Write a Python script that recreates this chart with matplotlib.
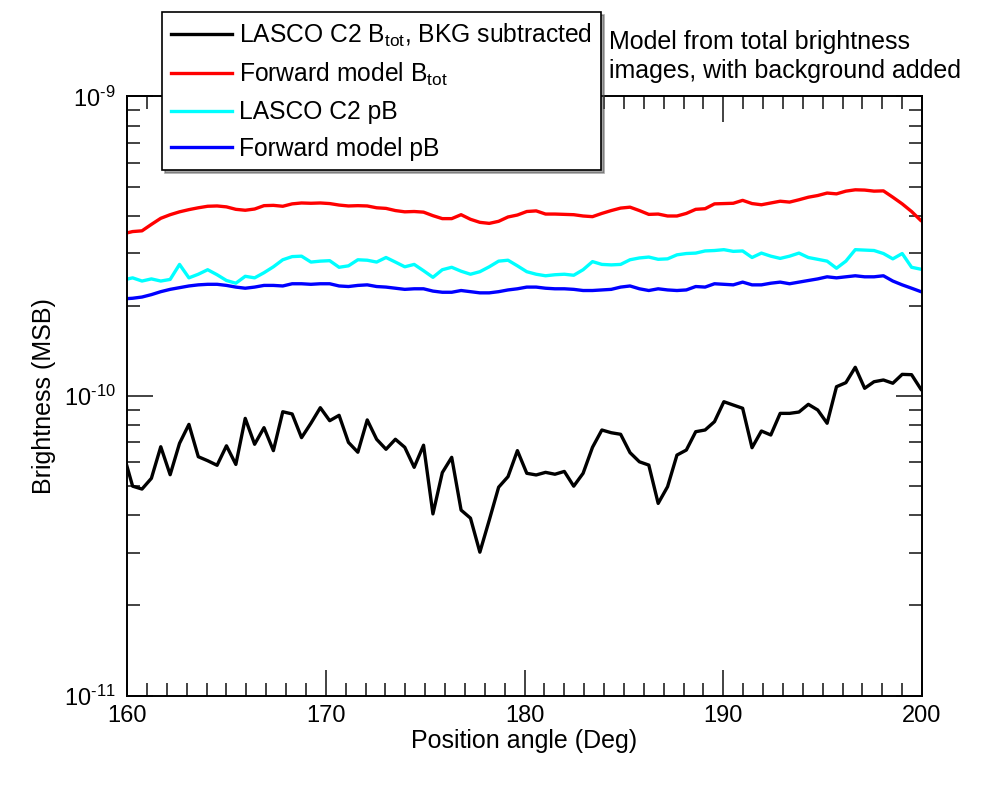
import numpy as np
import matplotlib
matplotlib.use("Agg")
import matplotlib.pyplot as plt
from matplotlib.ticker import MultipleLocator, NullFormatter, FixedLocator, FixedFormatter

plt.rcParams['font.family'] = ['Liberation Sans', 'DejaVu Sans']
plt.rcParams['mathtext.fontset'] = 'custom'
plt.rcParams['mathtext.rm'] = 'Liberation Sans'
plt.rcParams['mathtext.it'] = 'Liberation Sans:italic'
plt.rcParams['mathtext.bf'] = 'Liberation Sans:bold'

# position angle samples (deg), first and last fall just outside the axis
angle = np.linspace(159.81, 200.42, 87)

# LASCO C2 total brightness, background subtracted (units of 1e-11 MSB)
lasco_btot = np.array([
    6.45, 5.00, 4.89, 5.31, 6.77, 5.46, 6.95, 8.04, 6.27, 6.08,
    5.87, 6.82, 5.91, 8.42, 6.90, 7.84, 6.57, 8.86, 8.71, 7.26,
    8.11, 9.14, 8.27, 8.62, 7.00, 6.49, 8.32, 7.17, 6.64, 7.17,
    6.74, 5.78, 6.85, 4.04, 5.55, 6.24, 4.16, 3.91, 3.01, 3.85,
    4.96, 5.38, 6.57, 5.52, 5.45, 5.56, 5.48, 5.60, 5.00, 5.52,
    6.74, 7.70, 7.54, 7.45, 6.47, 6.03, 5.88, 4.38, 4.98, 6.35,
    6.60, 7.60, 7.70, 8.21, 9.57, 9.33, 9.10, 6.72, 7.64, 7.41,
    8.75, 8.75, 8.84, 9.38, 8.98, 8.11, 10.74, 11.08, 12.47, 10.61,
    11.16, 11.31, 11.03, 11.81, 11.78, 10.53, 9.80]) * 1e-11

# forward model total brightness (units of 1e-10 MSB)
model_btot = np.array([
    3.48, 3.54, 3.56, 3.74, 3.92, 4.03, 4.12, 4.19, 4.25, 4.30,
    4.31, 4.28, 4.20, 4.17, 4.21, 4.32, 4.33, 4.30, 4.38, 4.41,
    4.40, 4.41, 4.39, 4.34, 4.31, 4.32, 4.31, 4.25, 4.23, 4.16,
    4.12, 4.13, 4.11, 4.00, 3.91, 3.91, 4.03, 3.89, 3.80, 3.77,
    3.83, 3.96, 4.02, 4.13, 4.15, 4.05, 4.05, 4.04, 4.03, 3.99,
    3.97, 4.07, 4.16, 4.24, 4.27, 4.16, 4.04, 4.05, 3.99, 3.99,
    4.07, 4.20, 4.22, 4.38, 4.39, 4.40, 4.50, 4.39, 4.35, 4.41,
    4.47, 4.44, 4.52, 4.61, 4.67, 4.76, 4.73, 4.83, 4.88, 4.87,
    4.83, 4.84, 4.61, 4.38, 4.13, 3.85, 3.70]) * 1e-10

# LASCO C2 polarized brightness (units of 1e-10 MSB)
lasco_pb = np.array([
    2.44, 2.48, 2.42, 2.46, 2.42, 2.45, 2.75, 2.48, 2.55, 2.64,
    2.54, 2.43, 2.38, 2.51, 2.48, 2.58, 2.70, 2.85, 2.92, 2.93,
    2.80, 2.82, 2.83, 2.69, 2.72, 2.85, 2.84, 2.80, 2.90, 2.80,
    2.70, 2.75, 2.62, 2.49, 2.64, 2.69, 2.61, 2.55, 2.60, 2.70,
    2.82, 2.84, 2.72, 2.60, 2.55, 2.52, 2.54, 2.55, 2.53, 2.64,
    2.81, 2.75, 2.74, 2.75, 2.85, 2.89, 2.91, 2.86, 2.87, 2.96,
    2.99, 3.00, 3.05, 3.06, 3.08, 3.04, 3.05, 2.90, 3.00, 2.93,
    2.88, 2.93, 3.00, 2.90, 2.86, 2.82, 2.67, 2.82, 3.08, 3.07,
    3.06, 2.99, 2.87, 2.99, 2.69, 2.65, 2.64]) * 1e-10

# forward model polarized brightness (units of 1e-10 MSB)
model_pb = np.array([
    2.11, 2.12, 2.14, 2.18, 2.23, 2.27, 2.30, 2.33, 2.35, 2.36,
    2.36, 2.34, 2.31, 2.29, 2.31, 2.34, 2.34, 2.33, 2.37, 2.37,
    2.36, 2.37, 2.37, 2.33, 2.32, 2.34, 2.35, 2.32, 2.31, 2.29,
    2.27, 2.28, 2.28, 2.24, 2.22, 2.22, 2.25, 2.23, 2.21, 2.21,
    2.23, 2.26, 2.28, 2.31, 2.31, 2.29, 2.28, 2.28, 2.27, 2.25,
    2.25, 2.26, 2.27, 2.31, 2.33, 2.28, 2.25, 2.28, 2.26, 2.25,
    2.26, 2.32, 2.31, 2.37, 2.36, 2.35, 2.40, 2.35, 2.35, 2.38,
    2.40, 2.37, 2.40, 2.43, 2.46, 2.50, 2.48, 2.50, 2.52, 2.50,
    2.50, 2.52, 2.42, 2.35, 2.29, 2.23, 2.19]) * 1e-10

labels = [r'LASCO C2 B$_\mathrm{tot}$, BKG subtracted',
          r'Forward model B$_\mathrm{tot}$',
          'LASCO C2 pB',
          'Forward model pB']
colors = ['black', '#ff0000', '#00ffff', '#0000ff']
series = [lasco_btot, model_btot, lasco_pb, model_pb]

ytick_vals = [1e-11, 1e-10, 1e-9]
ytick_labels = [r'10$^{\text{-11}}$', r'10$^{\text{-10}}$', r'10$^{\text{-9}}$']

fig = plt.figure(figsize=(10, 8), dpi=100)
ax = fig.add_axes([0.127, 0.1306, 0.795, 0.7488])

for y, c, lab in zip(series, colors, labels):
    ax.plot(angle, y, color=c, lw=2.4, label=lab)

ax.set_yscale('log')
ax.set_ylim(1e-11, 1e-9)
ax.set_xlim(160, 200)
ax.xaxis.set_major_locator(MultipleLocator(10))
ax.xaxis.set_minor_locator(MultipleLocator(1))
ax.yaxis.set_major_locator(FixedLocator(ytick_vals))
ax.yaxis.set_major_formatter(FixedFormatter(ytick_labels))
ax.yaxis.set_minor_formatter(NullFormatter())

ax.tick_params(which='both', direction='in', top=True, right=True,
               width=1.2, color='#222222')
ax.tick_params(which='major', length=19)
ax.tick_params(which='minor', length=9.5)
ax.tick_params(axis='x', labelsize=17, pad=7)
ax.tick_params(axis='y', labelsize=17, pad=8)
for s in ax.spines.values():
    s.set_linewidth(1.4)

ax.set_xlabel('Position angle (Deg)', fontsize=18, labelpad=1)
ax.set_ylabel('Brightness (MSB)', fontsize=18, labelpad=6)

handles, labs = ax.get_legend_handles_labels()
leg = fig.legend(handles, labs, loc='upper left',
                 bbox_to_anchor=(0.162, 0.985), bbox_transform=fig.transFigure,
                 fontsize=17.7, frameon=True, fancybox=False, shadow=True,
                 edgecolor='black', framealpha=1, handlelength=2.45,
                 handletextpad=0.3, borderpad=0.38, labelspacing=0.5,
                 borderaxespad=0)
leg.get_frame().set_linewidth(1.2)

fig.text(0.609, 0.963, 'Model from total brightness\nimages, with background added',
         fontsize=18, ha='left', va='top', linespacing=1.3)

plt.savefig('out.png', dpi=100)
